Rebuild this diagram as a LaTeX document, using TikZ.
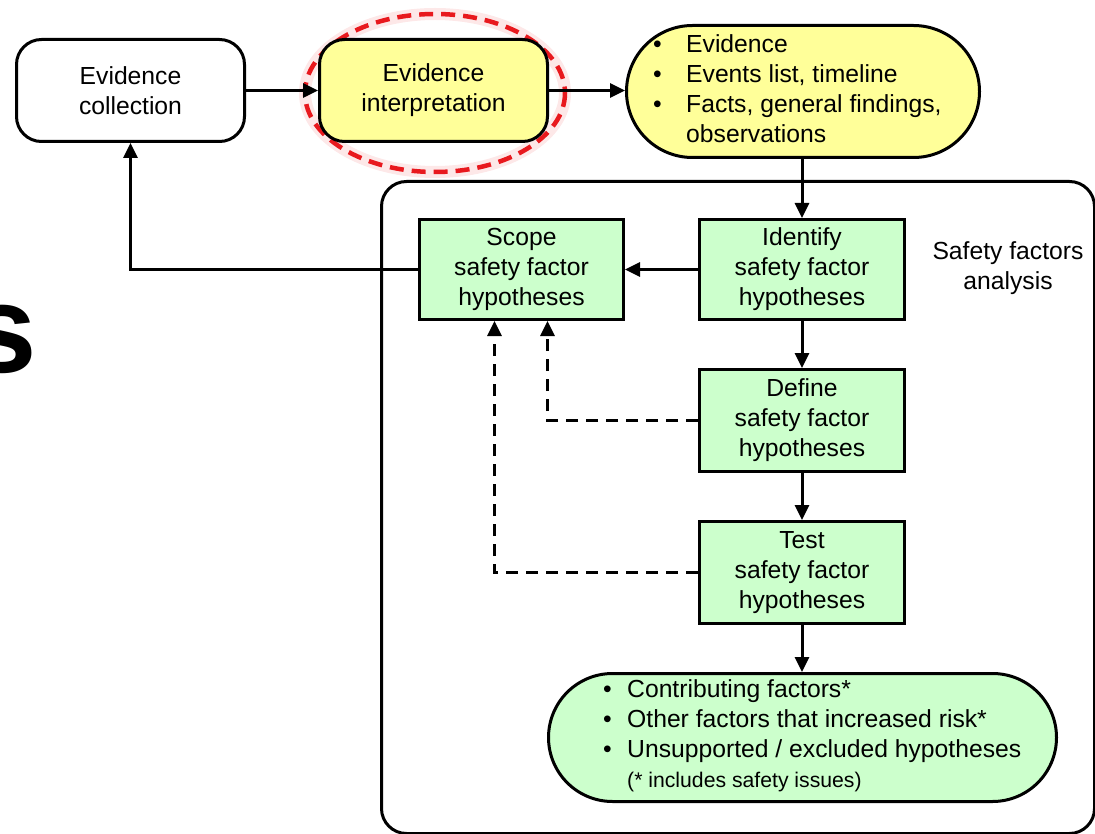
\documentclass[tikz,border=0pt]{standalone}
\usepackage{fontspec}
\setmainfont{Liberation Sans}
\usetikzlibrary{arrows.meta,calc}
\definecolor{paleyellow}{HTML}{FFFF99}
\definecolor{palegreen}{HTML}{CCFFCC}
\definecolor{markred}{HTML}{E8191E}
\newcommand{\bul}[1]{\makebox[#1][l]{\textbullet}}
\begin{document}
\begin{tikzpicture}[x=1pt,y=-1pt,
  txt/.style={font=\fontsize{24.7}{30}\selectfont, align=center},
  block/.style={txt, draw=black, line width=3pt, inner sep=0pt, anchor=north west},
  roundblock/.style={block, rounded corners=25pt},
  arr/.style={line width=3pt, -{Triangle[length=15pt,width=14pt]}},
  dasharr/.style={arr, dash pattern=on 12pt off 8pt}]
\useasboundingbox (0,0) rectangle (1095,834);

% large letter at the left edge
\node[anchor=base east, inner sep=0pt, font=\bfseries\fontsize{125}{125}\selectfont] (bigs) at (37,372) {s};

% analysis frame
\node[block, rounded corners=25pt, minimum width=713pt, minimum height=652pt] (frame) at (380,180) {};
\node[txt] (sfa) at (1008,268) {Safety factors\\analysis};

% highlight ring
\draw[markred, opacity=0.10, line width=12pt] (435,93) ellipse [x radius=130, y radius=79];
\draw[markred, line width=4.5pt, dash pattern=on 14pt off 8pt] (435,93) ellipse [x radius=130, y radius=79];

% top row
\node[roundblock, fill=white, minimum width=228pt, minimum height=102pt] (collect) at (15,38) {Evidence\\collection};
\node[roundblock, fill=paleyellow, minimum width=228pt, minimum height=102pt] (interp) at (318,38) {Evidence\\interpretation};
\node[block, fill=paleyellow, rounded corners=66pt, minimum width=353pt, minimum height=132pt] (outcome) at (625,24) {};
\node[txt, align=left, anchor=west, inner sep=0pt] (outtext) at (653,89)
  {\bul{33pt}Evidence\\ \bul{33pt}Events list, timeline\\ \bul{33pt}Facts, general findings,\\ \hspace*{33pt}observations};

% hypothesis steps
\node[block, fill=palegreen, minimum width=204pt, minimum height=100pt] (scope) at (418,218) {Scope\\safety factor\\hypotheses};
\node[block, fill=palegreen, minimum width=205pt, minimum height=100pt] (identify) at (698,218) {Identify\\safety factor\\hypotheses};
\node[block, fill=palegreen, minimum width=205pt, minimum height=102pt] (define) at (698,368) {Define\\safety factor\\hypotheses};
\node[block, fill=palegreen, minimum width=205pt, minimum height=102pt] (test) at (698,520) {Test\\safety factor\\hypotheses};

% results
\node[block, fill=palegreen, rounded corners=64pt, minimum width=508pt, minimum height=128pt] (final) at (547,672) {};
\node[txt, align=left, anchor=west, inner sep=0pt] (finaltext) at (603,736)
  {\bul{24pt}Contributing factors*\\ \bul{24pt}Other factors that increased risk*\\ \bul{24pt}Unsupported / excluded hypotheses\\[0pt]
   \hspace*{24pt}{\fontsize{21.2}{22}\selectfont(* includes safety issues)}};

% connectors
\draw[arr] (collect) -- (interp);
\draw[arr] (interp) -- (outcome.west |- interp.east);
\draw[arr] (outcome.south -| identify.north) -- (identify.north);
\draw[arr] (identify) -- (scope);
\draw[arr] (scope.west) -| (collect.south);
\draw[arr] (identify) -- (define);
\draw[arr] (define) -- (test);
\draw[arr] (test.south) -- (final.north -| test.south);
\draw[dasharr] (define.west) -| ([xshift=26pt]scope.south);
\draw[dasharr] (test.west) -| ([xshift=-27pt]scope.south);
\end{tikzpicture}
\end{document}
